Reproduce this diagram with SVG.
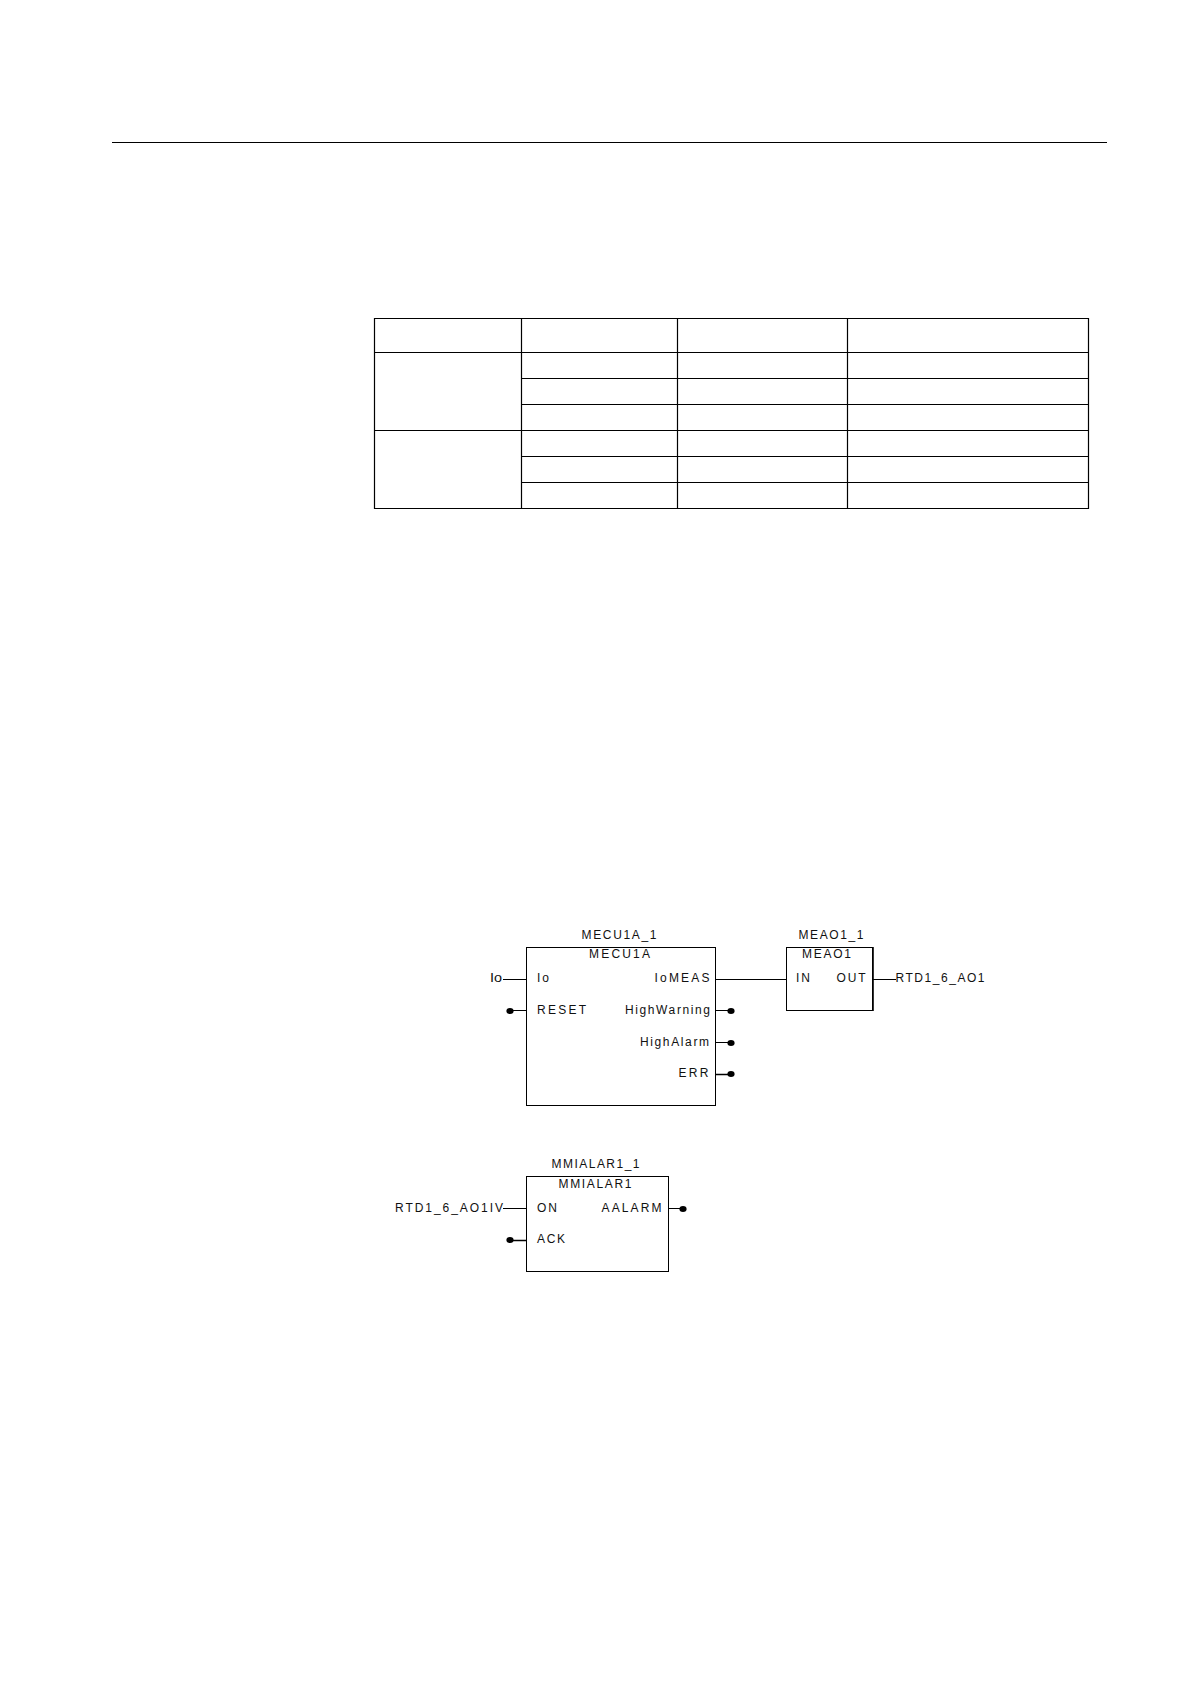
<svg xmlns="http://www.w3.org/2000/svg" width="1190" height="1684" viewBox="0 0 1190 1684">
<style>
.l{stroke:#000;stroke-width:1;fill:none}
.t{stroke:#000;stroke-width:1.2;fill:none}
.b{stroke:#000;stroke-width:1;fill:#fff}
.d{fill:#000}
text{font-family:"Liberation Sans",Arial,sans-serif;font-size:12px;fill:#111}
</style>
<rect width="1190" height="1684" fill="#fff"/>
<path class="t" d="M112 142.5H1107"/>
<g id="table">
<path class="t" d="M374.5 318.5H1088.5V508.5H374.5ZM521.5 318.5V508.5M677.5 318.5V508.5M847.5 318.5V508.5M374.5 352.5H1088.5M521.5 378.5H1088.5M521.5 404.5H1088.5M374.5 430.5H1088.5M521.5 456.5H1088.5M521.5 482.5H1088.5"/>
</g>
<g id="connectors">
<path class="l" d="M503 979.5H527M510 1010.5H527M716 979.5H787M716 1010.5H731M716 1042.5H731M873 979.5H896M503 1208.5H527M669 1208.5H683"/>
<path d="M716 1074.5H731M510 1240.5H527" stroke="#000" stroke-width="1.6" fill="none"/>
<ellipse class="d" cx="510" cy="1011" rx="3.6" ry="3"/>
<ellipse class="d" cx="731" cy="1011" rx="3.6" ry="3"/>
<ellipse class="d" cx="731" cy="1043" rx="3.6" ry="3"/>
<ellipse class="d" cx="731" cy="1074" rx="3.6" ry="3"/>
<ellipse class="d" cx="510" cy="1240" rx="3.6" ry="3"/>
<ellipse class="d" cx="683" cy="1209" rx="3.6" ry="3"/>
<text x="490" y="982" textLength="12" lengthAdjust="spacingAndGlyphs">Io</text>
<text x="895.5" y="982" textLength="89">RTD1_6_AO1</text>
<text x="395" y="1212" textLength="108">RTD1_6_AO1IV</text>
</g>
<g id="MECU1A">
<rect class="b" x="526.5" y="947.5" width="189" height="158"/>
<text x="581.5" y="939" textLength="75">MECU1A_1</text>
<text x="589" y="958" textLength="61">MECU1A</text>
<text x="537" y="982" textLength="12">Io</text>
<text x="537" y="1014" textLength="49">RESET</text>
<text x="654.5" y="982" textLength="55">IoMEAS</text>
<text x="625" y="1014" textLength="85">HighWarning</text>
<text x="640" y="1046" textLength="69">HighAlarm</text>
<text x="678.5" y="1077" textLength="30">ERR</text>
</g>
<g id="MEAO1">
<rect class="b" x="786.5" y="947.5" width="86" height="63"/>
<path d="M873 947V1011" stroke="#000" stroke-width="1.6"/>
<text x="798.5" y="939" textLength="65">MEAO1_1</text>
<text x="802" y="958" textLength="49">MEAO1</text>
<text x="796" y="982" textLength="14">IN</text>
<text x="836.5" y="982" textLength="29">OUT</text>
</g>
<g id="MMIALAR1">
<rect class="b" x="526.5" y="1176.5" width="142" height="95"/>
<text x="551.5" y="1167.5" textLength="88">MMIALAR1_1</text>
<text x="558.5" y="1188" textLength="73">MMIALAR1</text>
<text x="537" y="1212" textLength="20">ON</text>
<text x="537" y="1243" textLength="28">ACK</text>
<text x="601.5" y="1212" textLength="60">AALARM</text>
</g>
</svg>
